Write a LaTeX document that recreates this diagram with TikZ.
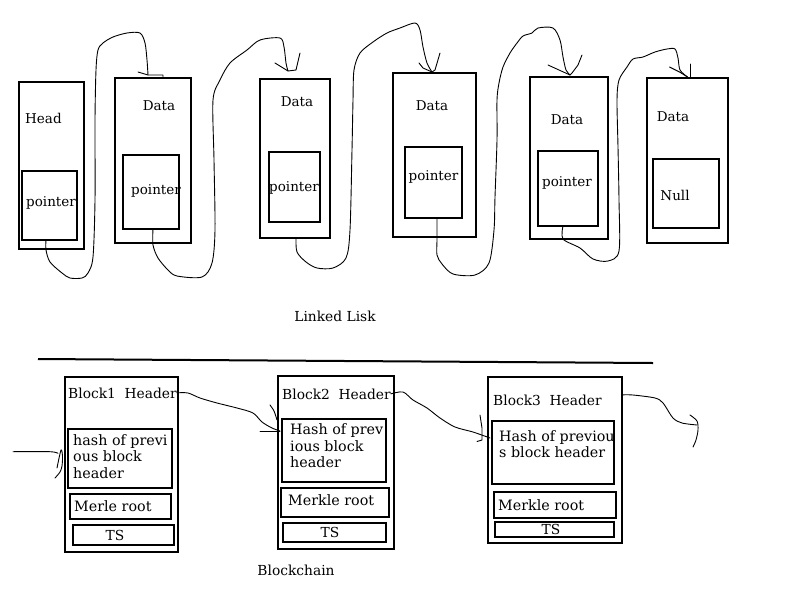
\documentclass[tikz,border=0pt]{standalone}
\usepackage{fontspec}
\setmainfont{DejaVu Serif}
\begin{document}
\begin{tikzpicture}[x=1pt,y=-1pt,
  box/.style={draw, line width=2pt, inner sep=0pt, outer sep=0pt},
  ttop/.style={inner sep=0pt, anchor=base, font=\fontsize{13.5}{16}\selectfont},
  tbot/.style={inner sep=0pt, anchor=base west, font=\fontsize{14.3}{17}\selectfont},
  thd/.style={inner sep=0pt, anchor=base west, font=\fontsize{13.8}{17}\selectfont},
  tlab/.style={inner sep=0pt, anchor=base, font=\fontsize{13.8}{17}\selectfont},
  lnk/.style={line width=0.9pt, line join=round, line cap=round}]
\useasboundingbox[fill=white] (0,0) rectangle (800,600);

% ---------- Linked list ----------
\node[box, minimum width=65pt, minimum height=167pt] (n1) at (51.5,165.5) {};
\node[box, minimum width=55pt, minimum height=69pt] (p1) at (49.5,205.5) {};
\node[box, minimum width=76pt, minimum height=165pt] (n2) at (153,160.5) {};
\node[box, minimum width=56pt, minimum height=74pt] (p2) at (151,192) {};
\node[box, minimum width=70pt, minimum height=159pt] (n3) at (295,158.5) {};
\node[box, minimum width=51pt, minimum height=70pt] (p3) at (294.5,187) {};
\node[box, minimum width=83pt, minimum height=164pt] (n4) at (434.5,155) {};
\node[box, minimum width=57pt, minimum height=71pt] (p4) at (433.5,182.5) {};
\node[box, minimum width=78pt, minimum height=162pt] (n5) at (569,158) {};
\node[box, minimum width=60pt, minimum height=75pt] (p5) at (568,188.5) {};
\node[box, minimum width=81pt, minimum height=165pt] (n6) at (687.5,160.5) {};
\node[box, minimum width=66pt, minimum height=69pt] (p6) at (686,193.5) {};

\node[ttop, anchor=base west] (l1a) at (25,123) {Head};
\node[ttop, anchor=base west] (l1b) at (26,206) {pointer};
\node[ttop] (l2a) at (159,110) {Data};
\node[ttop] (l2b) at (156,194) {pointer};
\node[ttop] (l3a) at (297,106.5) {Data};
\node[ttop] (l3b) at (294,191.5) {pointer};
\node[ttop] (l4a) at (432,110) {Data};
\node[ttop] (l4b) at (433.5,180) {pointer};
\node[ttop] (l5a) at (567,124) {Data};
\node[ttop] (l5b) at (567,186) {pointer};
\node[ttop] (l6a) at (673,121) {Data};
\node[ttop] (l6b) at (675,200.5) {Null};

\node[tlab] (ll) at (335,321) {Linked Lisk};

% arrow tips of the list
\coordinate (tip1) at ([xshift=-5pt,yshift=3pt]n2.north);
\coordinate (tip2) at ([xshift=-7pt,yshift=8pt]n3.north);
\coordinate (tip3) at ([xshift=-2.5pt,yshift=1pt]n4.north);
\coordinate (tip4) at ([xshift=1pt,yshift=2pt]n5.north);
\coordinate (tip5) at ([yshift=1pt]n6.north);

\draw[lnk] plot[smooth, tension=0.5] coordinates {([xshift=-3.5pt]p1.south) (46,250) (50,262) (62,273) (70,278) (82,278) (88,273) (93,257) (95,200) (95,120) (96,70) (98,50) (103,43) (113,37) (127,33) (140,33) (145,43) (147,60) (tip1)};
\draw[lnk] (tip1) -- ++(-10,-3) (tip1) -- ++(15,0) -- ++(0,2);

\draw[lnk] plot[smooth, tension=0.5] coordinates {([xshift=2pt]p2.south) (153,245) (158,258) (168,270) (177,276) (202,277) (212,263) (215,230) (214,160) (213,100) (220,80) (230,63) (247,50) (260,40) (280,38) (284,47) (286,63) (tip2)};
\draw[lnk] (tip2) -- ++(-13,-8) (tip2) -- ++(8,-1) -- ++(4,-17);

\draw[lnk] plot[smooth, tension=0.5] coordinates {([xshift=1pt]n3.south) (297,252) (306,262) (317,268) (333,268) (346,258) (350,230) (352,150) (353,100) (354,70) (360,53) (373,42) (387,33) (400,28) (415,23) (420,30) (423,47) (427,63) (tip3)};
\draw[lnk] (tip3) -- ++(-9,-4) -- ++(-4,-5) (tip3) -- ++(3,-2) -- ++(5,-17);

\draw[lnk] plot[smooth, tension=0.5] coordinates {([xshift=3.5pt]p4.south) (437,240) (437,255) (442,264) (453,274) (475,275) (489,263) (494,230) (495,197) (497,140) (497,100) (499,83) (503,67) (510,53) (517,43) (523,36) (532,33) (538,28) (553,28) (560,40) (563,57) (566,70) (tip4)};
\draw[lnk] (tip4) -- ++(-22,-10) (tip4) -- ++(2,-2) -- ++(6,-8) -- ++(4,-10);

\draw[lnk] plot[smooth, tension=0.5] coordinates {([xshift=-5pt]p5.south) (563,239) (580,248) (593,259) (608,261) (619,251) (619,200) (618,147) (617,100) (619,80) (627,67) (633,59) (643,57) (655,52) (667,49) (675,49) (678,58) (680,70) (tip5)};
\draw[lnk] (tip5) -- ++(-8,-5) -- ++(-10,-5) ([xshift=3pt]tip5) -- ++(0,-13);

% separator
\coordinate (sepA) at (38,359);
\coordinate (sepB) at (653,363);
\draw[line width=2pt] (sepA) -- (sepB);

% ---------- Blockchain ----------
\node[box, minimum width=113pt, minimum height=175pt] (b1) at (121.5,464.5) {};
\node[box, minimum width=104pt, minimum height=59pt] (h1) at (120,458.5) {};
\node[box, minimum width=101pt, minimum height=25pt] (m1) at (120.5,506.5) {};
\node[box, minimum width=101pt, minimum height=20pt] (t1) at (123.5,535) {};

\node[box, minimum width=116pt, minimum height=173pt] (b2) at (336,462.5) {};
\node[box, minimum width=104pt, minimum height=63pt] (h2) at (334,450.5) {};
\node[box, minimum width=108pt, minimum height=29pt] (m2) at (335,502.5) {};
\node[box, minimum width=103pt, minimum height=19pt] (t2) at (334.5,532.5) {};

\node[box, minimum width=134pt, minimum height=166pt] (b3) at (555,460) {};
\node[box, minimum width=122pt, minimum height=63pt] (h3) at (553,452.5) {};
\node[box, minimum width=122pt, minimum height=26pt] (m3) at (555,505) {};
\node[box, minimum width=119pt, minimum height=15pt] (t3) at (554.5,529.5) {};

\node[thd] (hd1) at (68,398) {Block1\ \ Header};
\node[tbot] (h1a) at (73,445) {hash of previ};
\node[tbot] (h1b) at (73,461.7) {ous block};
\node[tbot] (h1c) at (73,478.4) {header};
\node[tbot] (m1t) at (74,511.7) {Merle root};
\node[tlab] (t1t) at (115,540.7) {TS};

\node[thd] (hd2) at (282,399) {Block2\ \ Header};
\node[tbot] (h2a) at (290,434.3) {Hash of prev};
\node[tbot] (h2b) at (290,451) {ious block};
\node[tbot] (h2c) at (290,467.7) {header};
\node[tbot] (m2t) at (288,505.7) {Merkle root};
\node[tlab] (t2t) at (330,537) {TS};

\node[thd] (hd3) at (493,405) {Block3\ \ Header};
\node[tbot] (h3a) at (499,441) {Hash of previou};
\node[tbot] (h3b) at (499,457.3) {s block header};
\node[tbot] (m3t) at (498,510) {Merkle root};
\node[tlab] (t3t) at (551,534.3) {TS};

\node[tlab] (bc) at (296,575) {Blockchain};

% chain connectors
\coordinate (in1) at (13,451.7);
\draw[lnk] plot[smooth, tension=0.5] coordinates {(in1) (50,451.7) (58,453.3)};
\draw[lnk] plot[smooth, tension=0.5] coordinates {([xshift=-11pt,yshift=-9.5pt]h1.west) (61,450) (62.5,456) (62,466) (60,472) (55,478)};

\coordinate (tip7) at ([xshift=-2pt,yshift=-12pt]h2.north west);
\draw[lnk] plot[smooth, tension=0.5] coordinates {(hd1.east) (188,393) (200,398) (217,403) (237,408) (253,413) (262,422) (272,428) (tip7)};
\draw[lnk] (tip7) -- ++(-20,0);
\draw[lnk] plot[smooth, tension=0.5] coordinates {(270,405) (274,411) (277,420)};

\coordinate (tip8) at ([xshift=-2pt,yshift=-17pt]h3.north west);
\draw[lnk] plot[smooth, tension=0.5] coordinates {(hd2.east) (403,392) (413,400) (427,408) (440,418) (455,427) (473,432) (tip8)};
\draw[lnk] (480,415) -- (482,428) -- (482,440) -- (477,441.5);

\coordinate (o3) at ([yshift=5pt]hd3.east);
\coordinate (end9) at (697,425);
\draw[lnk] plot[smooth, tension=0.5] coordinates {(o3 -| b3.east) (633,395) (655,398) (663,403) (673,418) (682,423) (end9)};
\draw[lnk] plot[smooth, tension=0.5] coordinates {(690,415) (697,421) (698,430) (696,440) (693,447)};
\end{tikzpicture}
\end{document}
